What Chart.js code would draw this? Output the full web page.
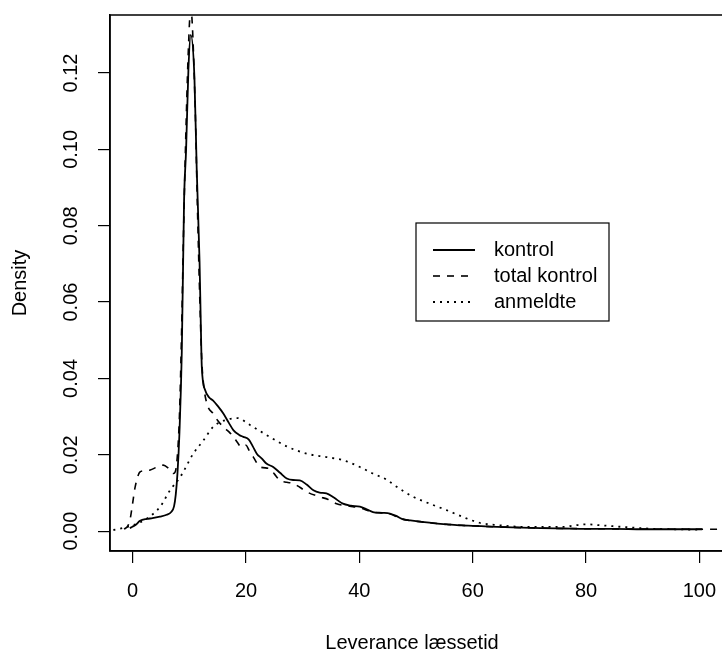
<!DOCTYPE html>
<html>
<head>
<meta charset="utf-8">
<script src="https://cdn.jsdelivr.net/npm/chart.js@4.4.1/dist/chart.umd.min.js"></script>
<style>
  body { margin: 0; background: #fff; }
  #wrap { width: 722px; height: 650px; }
</style>
</head>
<body>
<div id="wrap"><canvas id="myChart" width="722" height="650"></canvas></div>
<script>
// density curves
const kontrolX = [-0.5, 0, 0.5, 1.3, 2.5, 3.5, 4.8, 6, 6.8, 7.3, 7.6, 7.9, 8.25, 8.67, 9.07, 9.43, 9.84, 10.25, 10.9, 11.3, 11.8, 12.0, 12.2, 12.8, 13.5, 14.2, 15, 16, 17, 17.8, 18.8, 19.5, 20.5, 21.2, 21.9, 22.8, 23.6, 24.8, 26, 27.2, 28.3, 29.5, 30.7, 31.9, 33, 34.2, 35.5, 37.1, 38.5, 40.1, 41.2, 42.4, 44, 45.4, 46.5, 47.5, 49, 51.2, 53, 55.4, 58, 60, 63, 67, 72, 76, 80, 85, 90, 95, 100.5];
const kontrolY = [0.0008, 0.0012, 0.0016, 0.0027, 0.0032, 0.0034, 0.0038, 0.0043, 0.005, 0.0065, 0.0095, 0.015, 0.0256, 0.047, 0.0865, 0.100, 0.121, 0.130, 0.1188, 0.095, 0.0708, 0.056, 0.043, 0.0369, 0.035, 0.0342, 0.0328, 0.0308, 0.0283, 0.0264, 0.0252, 0.0247, 0.024, 0.0222, 0.0203, 0.019, 0.0177, 0.0168, 0.0153, 0.0138, 0.0134, 0.0133, 0.0122, 0.0107, 0.0101, 0.0099, 0.0088, 0.0072, 0.0067, 0.0064, 0.0058, 0.005, 0.0048, 0.0046, 0.004, 0.0032, 0.0028, 0.0024, 0.0021, 0.0018, 0.0015, 0.0014, 0.0012, 0.001, 0.0008, 0.0007, 0.0006, 0.0006, 0.0005, 0.0005, 0.0005];

const totalX = [-1.5, -0.8, -0.4, -0.1, 0.44, 1.3, 2, 3.1, 4.3, 5.4, 6.3, 7.2, 7.6, 7.9, 8.25, 8.6, 9.0, 9.4, 9.8, 10.25, 11, 11.4, 11.9, 12.2, 12.5, 13.1, 14.2, 15, 16, 17, 17.8, 18.5, 19.2, 20, 20.6, 21.3, 22.5, 24.2, 25, 26, 27.2, 28.3, 29.5, 30.7, 33, 34.5, 36, 38.9, 40.1, 42.4, 45.4, 47.5, 51.2, 55.4, 60, 67, 76, 85, 95, 104];
const totalY = [0.0005, 0.0015, 0.0035, 0.0063, 0.0116, 0.0155, 0.0158, 0.016, 0.0168, 0.0173, 0.0165, 0.0151, 0.016, 0.02, 0.03, 0.05, 0.08, 0.105, 0.125, 0.137, 0.1127, 0.0865, 0.058, 0.0447, 0.0386, 0.0334, 0.0308, 0.029, 0.0273, 0.026, 0.0247, 0.0232, 0.022, 0.0225, 0.021, 0.0194, 0.0168, 0.0164, 0.015, 0.0133, 0.0128, 0.0125, 0.0115, 0.0103, 0.009, 0.0083, 0.0072, 0.0064, 0.0061, 0.005, 0.0045, 0.0032, 0.0024, 0.0018, 0.0014, 0.001, 0.0007, 0.0006, 0.0005, 0.0005];

const anmeldteX = [-3.4, -1, 0.5, 2.5, 4.8, 6.6, 8.4, 10.7, 12.5, 14.2, 16.6, 18.5, 20.7, 23.6, 27.2, 30.7, 34.2, 37.1, 40.1, 42.4, 44.8, 46.6, 49.5, 52.4, 55.4, 58.3, 61.2, 64.2, 70, 75.9, 78, 80, 82, 84.7, 90.6, 95, 100];
const anmeldteY = [0.0003, 0.0011, 0.0018, 0.0033, 0.0063, 0.0107, 0.0142, 0.0203, 0.0238, 0.0273, 0.0292, 0.0296, 0.0278, 0.0252, 0.0222, 0.0203, 0.0194, 0.0186, 0.0168, 0.0151, 0.0135, 0.0116, 0.009, 0.0072, 0.0055, 0.0037, 0.0022, 0.0016, 0.0011, 0.0011, 0.0015, 0.0018, 0.0016, 0.0013, 0.0007, 0.0005, 0.0004];

const seriesNames = ["kontrol", "total kontrol", "anmeldte"];
const xTicks = [0, 20, 40, 60, 80, 100];
const yTicks = [0, 0.02, 0.04, 0.06, 0.08, 0.10, 0.12];

const FONT = "'Liberation Sans', Arial, Helvetica, sans-serif";

function pts(xs, ys) {
  return xs.map((x, i) => ({ x: x, y: ys[i] }));
}

// box (right side falls off the picture), rotated y labels, titles and legend, R style
const rStyle = {
  id: "rStyle",
  afterDraw(chart) {
    const ctx = chart.ctx;
    const a = chart.chartArea;
    const ys = chart.scales.y;
    ctx.save();
    ctx.strokeStyle = "#000";
    ctx.lineWidth = 1.5;
    ctx.beginPath();
    ctx.moveTo(a.right + 2, a.top);
    ctx.lineTo(a.left, a.top);
    ctx.lineTo(a.left, a.bottom);
    ctx.lineTo(a.right + 2, a.bottom);
    ctx.stroke();

    ctx.fillStyle = "#000";
    ctx.font = "20px " + FONT;
    ctx.textAlign = "center";
    ctx.textBaseline = "middle";
    yTicks.forEach(v => {
      ctx.save();
      ctx.translate(71, ys.getPixelForValue(v));
      ctx.rotate(-Math.PI / 2);
      ctx.fillText(v.toFixed(2), 0, 0);
      ctx.restore();
    });

    ctx.save();
    ctx.translate(20, (a.top + a.bottom) / 2);
    ctx.rotate(-Math.PI / 2);
    ctx.fillText("Density", 0, 0);
    ctx.restore();

    ctx.fillText("Leverance læssetid", (a.left + a.right) / 2 - 4, 643);

    // legend
    const lx = 416, ly = 223, lw = 193, lh = 98;
    ctx.lineWidth = 1.2;
    ctx.strokeRect(lx, ly, lw, lh);
    ctx.textAlign = "left";
    chart.data.datasets.forEach((ds, i) => {
      const y = 250 + i * 26;
      ctx.beginPath();
      ctx.setLineDash(ds.borderDash || []);
      ctx.lineWidth = ds.borderWidth;
      ctx.moveTo(433, y);
      ctx.lineTo(475, y);
      ctx.stroke();
      ctx.setLineDash([]);
      ctx.fillText(ds.label, 494, y);
    });
    ctx.restore();
  }
};

const ctx = document.getElementById("myChart").getContext("2d");
new Chart(ctx, {
  type: "line",
  data: {
    datasets: [
      { label: seriesNames[0], data: pts(kontrolX, kontrolY), borderColor: "#000", borderWidth: 1.8, borderDash: [] },
      { label: seriesNames[1], data: pts(totalX, totalY), borderColor: "#000", borderWidth: 1.6, borderDash: [7, 7] },
      { label: seriesNames[2], data: pts(anmeldteX, anmeldteY), borderColor: "#000", borderWidth: 1.8, borderDash: [2, 5] }
    ]
  },
  options: {
    responsive: false,
    animation: false,
    layout: { padding: { top: 15, left: 0, right: -2, bottom: 0 } },
    elements: {
      point: { radius: 0 },
      line: { cubicInterpolationMode: "monotone", fill: false }
    },
    plugins: {
      legend: { display: false },
      tooltip: { enabled: false }
    },
    scales: {
      x: {
        type: "linear",
        min: -4,
        max: 104,
        afterBuildTicks: s => { s.ticks = xTicks.map(v => ({ value: v })); },
        afterFit: s => { s.height = 99; s.paddingLeft = 0; s.paddingRight = 0; },
        grid: { drawOnChartArea: false, drawTicks: true, tickLength: 12, color: "#000", lineWidth: 1.2 },
        border: { display: true, color: "#000", width: 1.5 },
        ticks: { color: "#000", font: { size: 20, family: FONT }, padding: 16, maxRotation: 0, autoSkip: false }
      },
      y: {
        type: "linear",
        min: -0.0052,
        max: 0.1352,
        afterBuildTicks: s => { s.ticks = yTicks.map(v => ({ value: v })); },
        afterFit: s => { s.width = 110; s.paddingTop = 0; s.paddingBottom = 0; },
        grid: { drawOnChartArea: false, drawTicks: true, tickLength: 12, color: "#000", lineWidth: 1.2 },
        border: { display: true, color: "#000", width: 1.5 },
        ticks: { display: false }
      }
    }
  },
  plugins: [rStyle]
});
</script>
</body>
</html>
